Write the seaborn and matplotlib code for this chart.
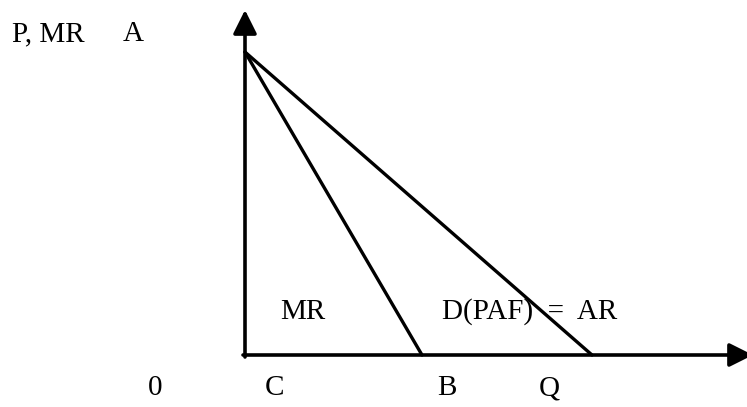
import numpy as np
import pandas as pd
import matplotlib
matplotlib.use("Agg")
import matplotlib.pyplot as plt
import seaborn as sns

# quantities measured from the origin C (pixel-ish units)
price_intercept = 303          # point A on the price axis
mr_quantity = [0, 177]         # MR runs from A down to B
ar_quantity = [0, 347]         # demand / AR runs from A down to Q
mr_price = [price_intercept, 0]
ar_price = [price_intercept, 0]

axis_x_end = 508
axis_y_end = 345

labels = {
    "P, MR": (-233, 321),
    "A": (-122, 321),
    "MR": (35, 43),
    "D(PAF)  =  AR": (197, 43),
    "0": (-97, -33),
    "C": (20, -33),
    "B": (192, -33),
    "Q": (294, -33),
}

sns.set_theme(style="white")
plt.rcParams["font.family"] = ["Liberation Serif", "DejaVu Serif"]

fig = plt.figure(figsize=(7.47, 4.07), dpi=100)
ax = fig.add_axes([0, 0, 1, 1])
ax.set_xlim(-245, 502)
ax.set_ylim(-52, 355)
ax.axis("off")

df = pd.concat([
    pd.DataFrame({"Q": mr_quantity, "P": mr_price, "curve": "MR"}),
    pd.DataFrame({"Q": ar_quantity, "P": ar_price, "curve": "AR"}),
])
sns.lineplot(data=df, x="Q", y="P", units="curve", estimator=None,
             color="black", linewidth=2.4, ax=ax, legend=False)

# axes with arrow heads
arrow = dict(arrowstyle="-|>,head_length=1.2,head_width=0.6", color="black",
             lw=2.6, shrinkA=0, shrinkB=0)
ax.annotate("", xy=(0, axis_y_end), xytext=(0, -2), arrowprops=arrow,
            annotation_clip=False)
ax.annotate("", xy=(axis_x_end, 0), xytext=(-2, 0), arrowprops=arrow,
            annotation_clip=False)

for txt, (x, y) in labels.items():
    ax.text(x, y, txt, fontsize=21, color="black", ha="left", va="center")

fig.savefig("out.png", dpi=100, facecolor="white")
